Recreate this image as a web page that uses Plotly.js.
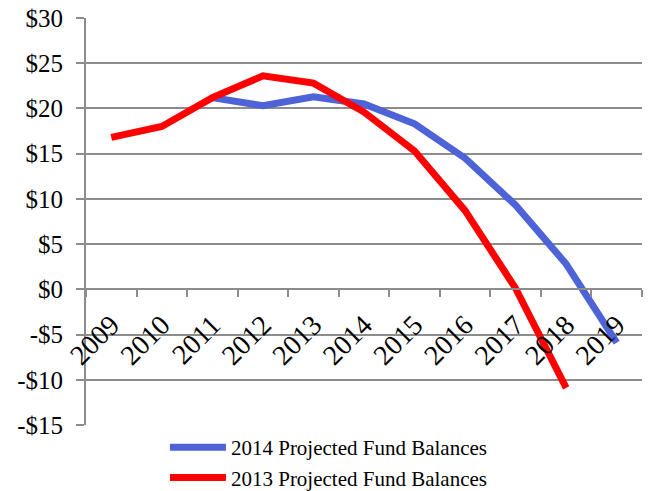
<!DOCTYPE html>
<html>
<head>
<meta charset="utf-8">
<script src="https://cdn.plot.ly/plotly-3.0.1.min.js"></script>
<style>
html,body{margin:0;padding:0;background:#fff;}
#chart{width:649px;height:491px;}
</style>
</head>
<body>
<div id="chart"></div>
<script>
var years = ["2009","2010","2011","2012","2013","2014","2015","2016","2017","2018","2019"];
var years2014 = ["2011","2012","2013","2014","2015","2016","2017","2018","2019"];
var balances2014 = [21.2, 20.3, 21.3, 20.5, 18.3, 14.5, 9.3, 2.8, -5.9];
var years2013 = ["2009","2010","2011","2012","2013","2014","2015","2016","2017","2018"];
var balances2013 = [16.8, 18.0, 21.2, 23.6, 22.8, 19.6, 15.3, 8.7, 0.1, -10.9];
var yTickVals = [30, 25, 20, 15, 10, 5, 0, -5, -10, -15];
var yTickText = ["$30","$25","$20","$15","$10","$5","$0","-$5","-$10","-$15"];
var seriesNames = ["2014 Projected Fund Balances", "2013 Projected Fund Balances"];

var serif = "Liberation Serif, Times New Roman, serif";
var grid = "#8c8c8c";

var traces = [
  {x: years2014, y: balances2014, name: seriesNames[0], type: "scatter", mode: "lines",
   line: {color: "#4f63d9", width: 7}},
  {x: years2013, y: balances2013, name: seriesNames[1], type: "scatter", mode: "lines",
   line: {color: "#ff0000", width: 7}}
];

var layout = {
  width: 649, height: 491,
  margin: {l: 86, r: 7, t: 18, b: 66, autoexpand: false},
  paper_bgcolor: "#fff", plot_bgcolor: "#fff",
  font: {family: serif},
  showlegend: true,
  legend: {x: 0.142, xanchor: "left", y: -0.005, yanchor: "top",
           itemwidth: 56,
           font: {family: serif, size: 21, color: "#000"},
           bgcolor: "rgba(0,0,0,0)", tracegroupgap: 0},
  xaxis: {
    type: "category", categoryorder: "array", categoryarray: years,
    range: [-0.5, 10.5],
    anchor: "free", position: 15/45,
    showline: true, linecolor: grid, linewidth: 2,
    ticks: "outside", ticklen: 7, tickwidth: 2, tickcolor: grid,
    tickson: "boundaries",
    tickangle: -45,
    ticklabelstandoff: 7,
    tickfont: {family: serif, size: 28, color: "#000"},
    showgrid: false, zeroline: false, fixedrange: true
  },
  yaxis: {
    range: [-15, 30],
    tickvals: yTickVals, ticktext: yTickText,
    showline: true, linecolor: grid, linewidth: 2,
    ticks: "outside", ticklen: 8, tickwidth: 2, tickcolor: grid,
    ticklabelstandoff: 8,
    showgrid: true, gridcolor: grid, gridwidth: 2,
    zeroline: false,
    tickfont: {family: serif, size: 25, color: "#000"},
    fixedrange: true
  }
};

Plotly.newPlot("chart", traces, layout, {displayModeBar: false, staticPlot: true});
</script>
</body>
</html>
